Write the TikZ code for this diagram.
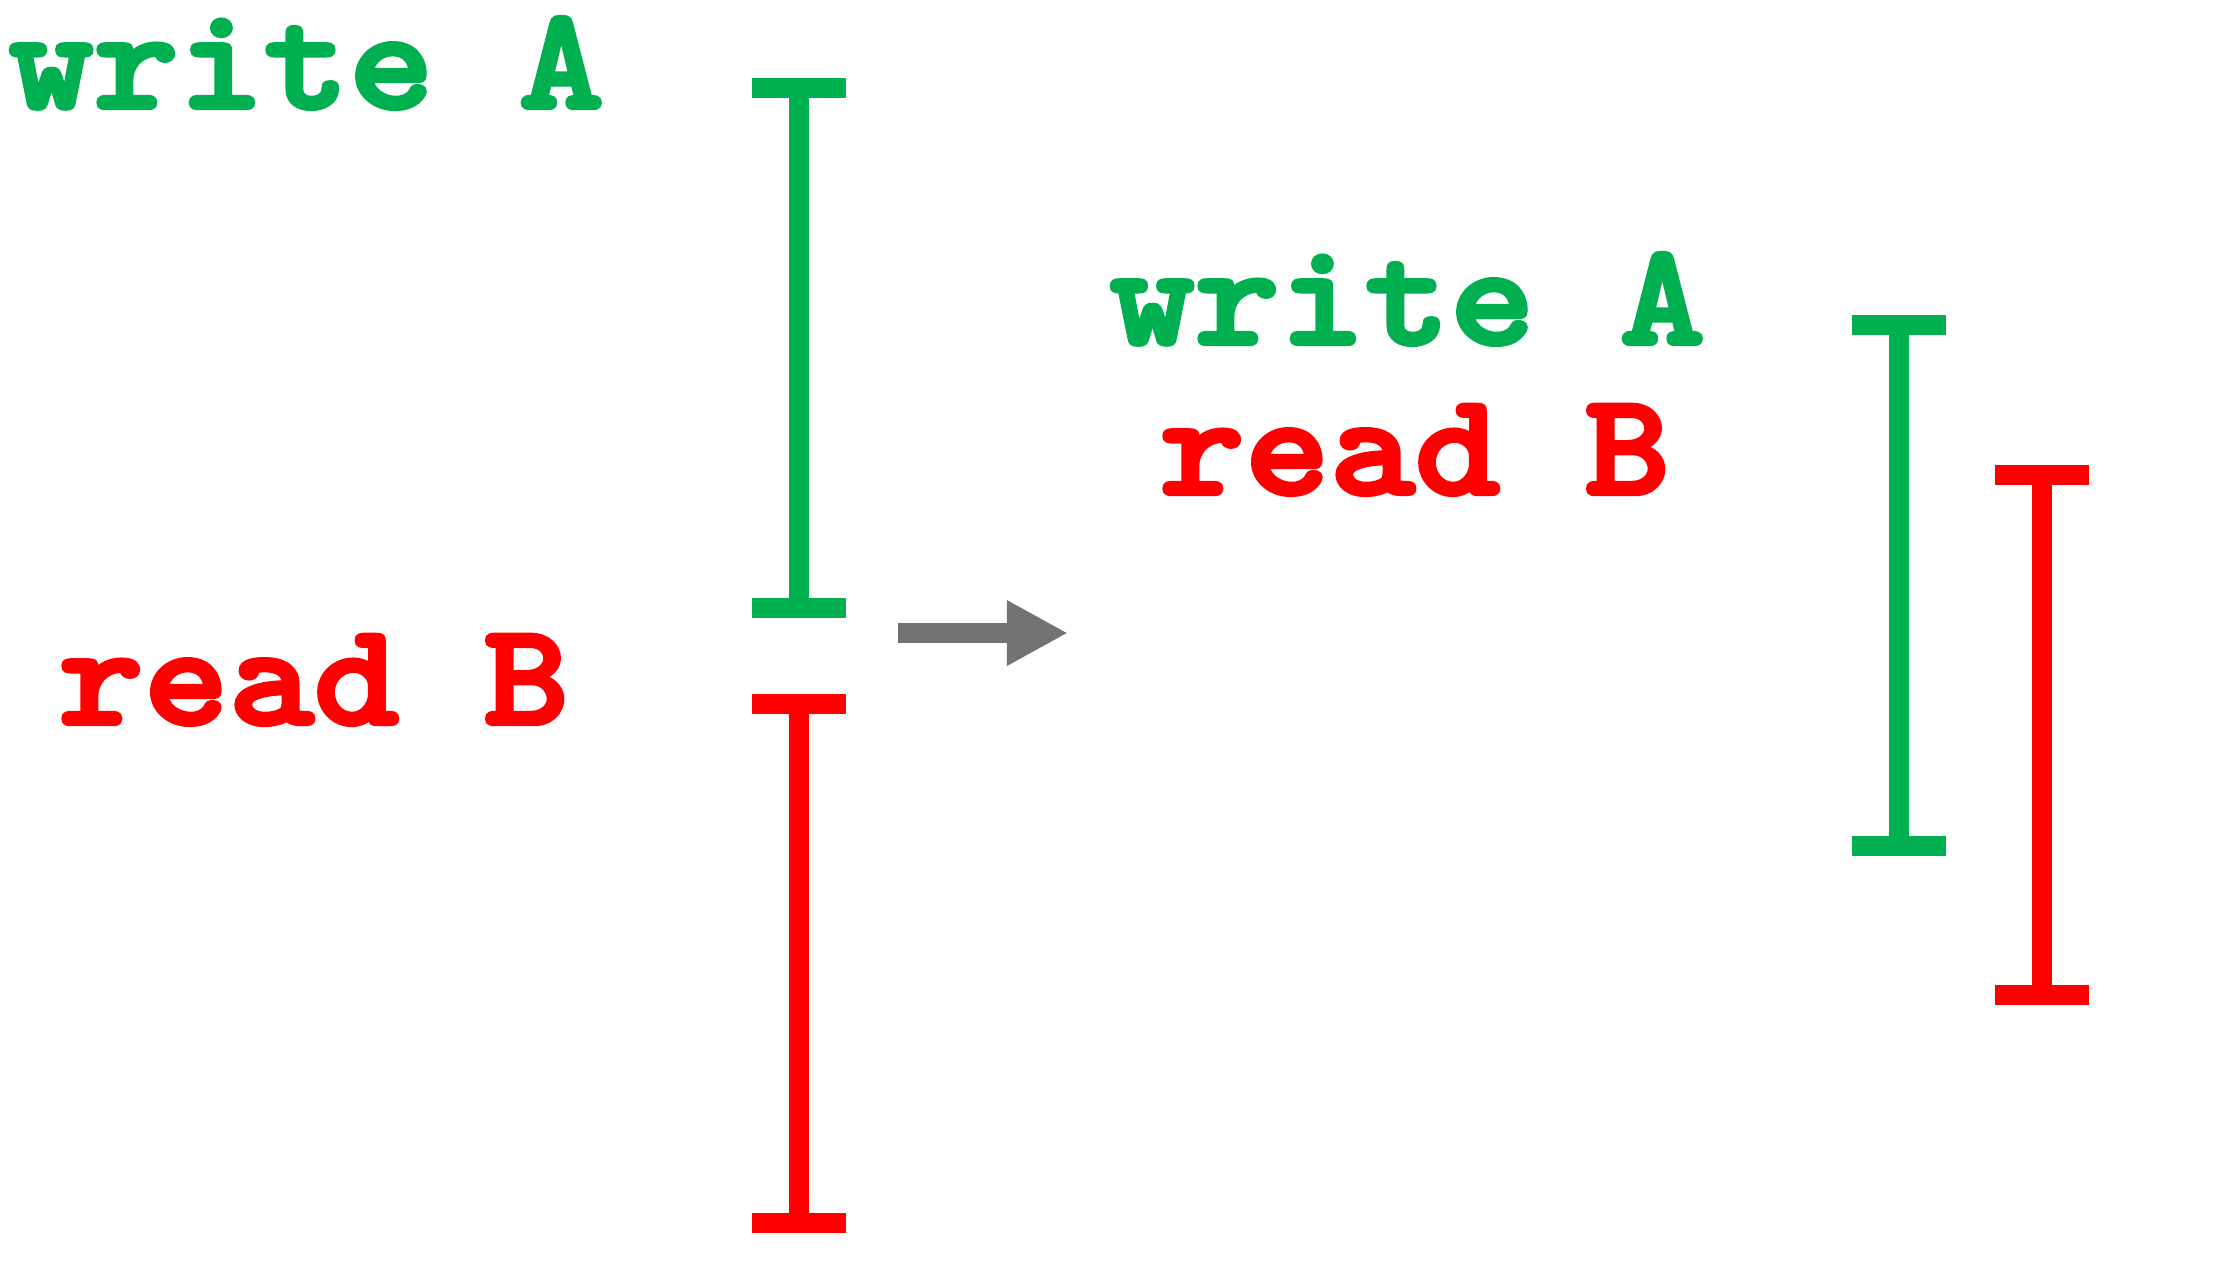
\documentclass[tikz,border=0pt]{standalone}
\usepackage{fontspec}
\newfontfamily\courb{lmmonolt10-bold}[Extension=.otf, FakeBold=3, FakeStretch=1.11]
\usetikzlibrary{arrows.meta}
\definecolor{wrgreen}{HTML}{00B050}
\definecolor{rdred}{HTML}{FF0000}
\definecolor{arrgray}{HTML}{737373}
\tikzset{
  lbl/.style={font=\fontsize{41.5}{48}\selectfont\courb, anchor=base west, inner sep=0pt, text height=0.95cm},
  ibar/.style={line width=0.2cm},
}
\begin{document}
\begin{tikzpicture}[x=0.01cm,y=-0.01cm]
  \useasboundingbox (0,0) rectangle (2218,1265);
  % labels, before and after
  \node[lbl,text=wrgreen] (wrA) at (8,108) {write A};
  \node[lbl,text=rdred] (rdB) at (58,724) {read B};
  \node[lbl,text=wrgreen] (wrA2) at (1109,344) {write A};
  \node[lbl,text=rdred] (rdB2) at (1159,494) {read B};
  % intervals
  \foreach \x/\t/\b/\c in {799/88/608/wrgreen, 799/704/1223/rdred,
                           1899/325/846/wrgreen, 2042/475/995/rdred} {
    \draw[ibar,\c] (\x-47,\t) -- (\x+47,\t) (\x,\t) -- (\x,\b) (\x-47,\b) -- (\x+47,\b);
  }
  \coordinate (arrS) at (898,633);
  \coordinate (arrE) at (1068,633);
  \draw[arrgray,line width=0.2cm,-{Triangle[length=0.61cm,width=0.61cm]}] (arrS) -- (arrE);
\end{tikzpicture}
\end{document}
